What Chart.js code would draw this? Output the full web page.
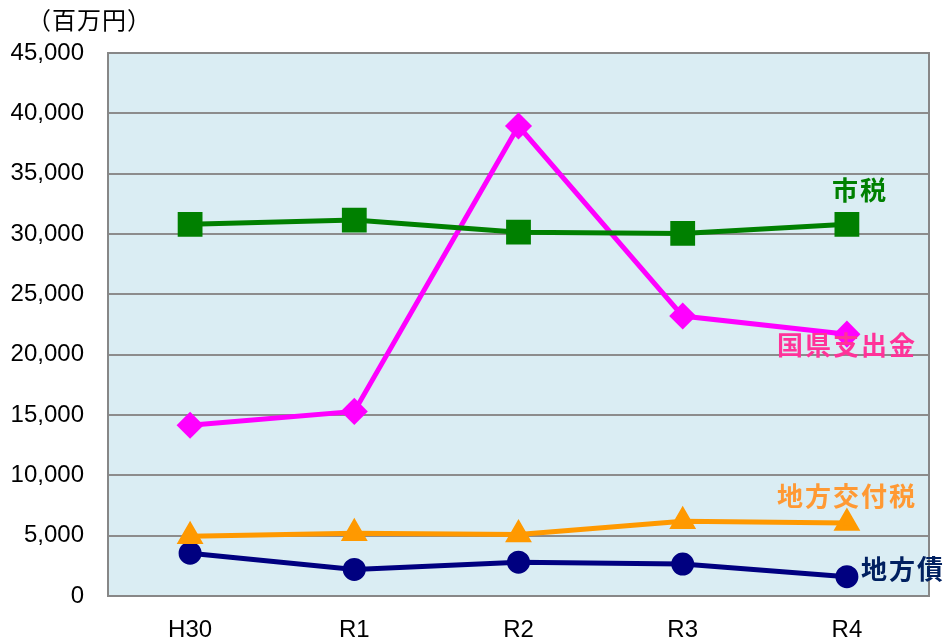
<!DOCTYPE html>
<html><head><meta charset="utf-8">
<script src="https://cdn.jsdelivr.net/npm/chart.js@4/dist/chart.umd.min.js"></script>
<style>html,body{margin:0;padding:0;background:#fff}#wrap{width:948px;height:641px}</style>
</head><body><div id="wrap"><canvas id="c" width="948" height="641"></canvas></div>
<script>
const categories = ['H30','R1','R2','R3','R4'];
const shizei = [30800, 31150, 30150, 30050, 30800];
const kokuken = [14150, 15300, 38950, 23200, 21700];
const koufuzei = [4950, 5200, 5100, 6200, 6050];
const chihousai = [3550, 2200, 2800, 2650, 1600];
const yTicks = [0,5000,10000,15000,20000,25000,30000,35000,40000,45000];
const unitLabel = '（百万円）';
const seriesLabels = [
  {text:'市税', color:'#008000', idx:4, dx:13, dy:-34, align:'center'},
  {text:'国県支出金', color:'#FF3399', idx:4, dx:0, dy:11, align:'center'},
  {text:'地方交付税', color:'#FF9933', idx:4, dx:0, dy:-27, align:'center'},
  {text:'地方債', color:'#002060', idx:4, dx:14, dy:-8, align:'left'}
];
const seriesData = [shizei, kokuken, koufuzei, chihousai];

const bgPlugin = {
  id:'bg',
  beforeDraw(chart){
    const {ctx, chartArea:a} = chart;
    ctx.save(); ctx.fillStyle='#DAEDF3'; ctx.fillRect(a.left,a.top,a.right-a.left,a.bottom-a.top); ctx.restore();
  },
  afterDatasetsDraw(chart){
    const {ctx, chartArea:a} = chart;
    ctx.save();
    ctx.strokeStyle='#878787'; ctx.lineWidth=2;
    ctx.strokeRect(a.left,a.top,a.right-a.left,a.bottom-a.top);
    ctx.restore();
  },
  afterDraw(chart){
    const {ctx} = chart;
    const xs = chart.scales.x, ys = chart.scales.y;
    ctx.save();
    ctx.fillStyle='#000';
    ctx.font='24px "Noto Sans CJK JP"';
    ctx.letterSpacing='1px';
    ctx.textBaseline='middle'; ctx.textAlign='left';
    ctx.fillText(unitLabel, 27, 20);
    ctx.font='bold 26px "Noto Sans CJK JP"';
    ctx.letterSpacing='2px';
    seriesLabels.forEach((l,i)=>{
      const x = xs.getPixelForValue(l.idx) + l.dx;
      const y = ys.getPixelForValue(seriesData[i][l.idx]) + l.dy;
      ctx.fillStyle=l.color; ctx.textAlign=l.align;
      ctx.fillText(l.text, x, y);
    });
    ctx.restore();
  }
};

new Chart(document.getElementById('c'), {
  type:'line',
  data:{
    labels:categories,
    datasets:[
      {label:'市税', data:shizei, borderColor:'#008000', backgroundColor:'#008000', borderWidth:5, pointStyle:'rect', pointRadius:14, pointHoverRadius:14, tension:0},
      {label:'国県支出金', data:kokuken, borderColor:'#FF00FF', backgroundColor:'#FF00FF', borderWidth:5, pointStyle:'rectRot', pointRadius:10, pointHoverRadius:10, tension:0},
      {label:'地方交付税', data:koufuzei, borderColor:'#FF9900', backgroundColor:'#FF9900', borderWidth:5, pointStyle:'triangle', pointRadius:10.5, pointHoverRadius:10.5, tension:0},
      {label:'地方債', data:chihousai, borderColor:'#000080', backgroundColor:'#000080', borderWidth:5, pointStyle:'circle', pointRadius:9, pointHoverRadius:9, tension:0}
    ]
  },
  options:{
    responsive:false, animation:false,
    layout:{padding:{top:53,right:17,left:0,bottom:0}},
    plugins:{legend:{display:false}, tooltip:{enabled:false}},
    scales:{
      x:{
        offset:true,
        grid:{display:false, drawTicks:false},
        border:{display:false},
        ticks:{color:'#000', font:{family:'"Liberation Sans", Arial', size:24}, padding:20},
        afterFit(s){ s.height = 45; }
      },
      y:{
        min:0, max:45000,
        afterBuildTicks(s){ s.ticks = yTicks.map(v=>({value:v})); },
        grid:{color:'#8C8C8C', lineWidth:2, drawTicks:false},
        border:{display:false},
        ticks:{color:'#000', font:{family:'"Liberation Sans", Arial', size:24}, padding:24,
          callback:(v)=>v.toLocaleString('en-US')},
        afterFit(s){ s.width = 108; }
      }
    }
  },
  plugins:[bgPlugin]
});
</script></body></html>
